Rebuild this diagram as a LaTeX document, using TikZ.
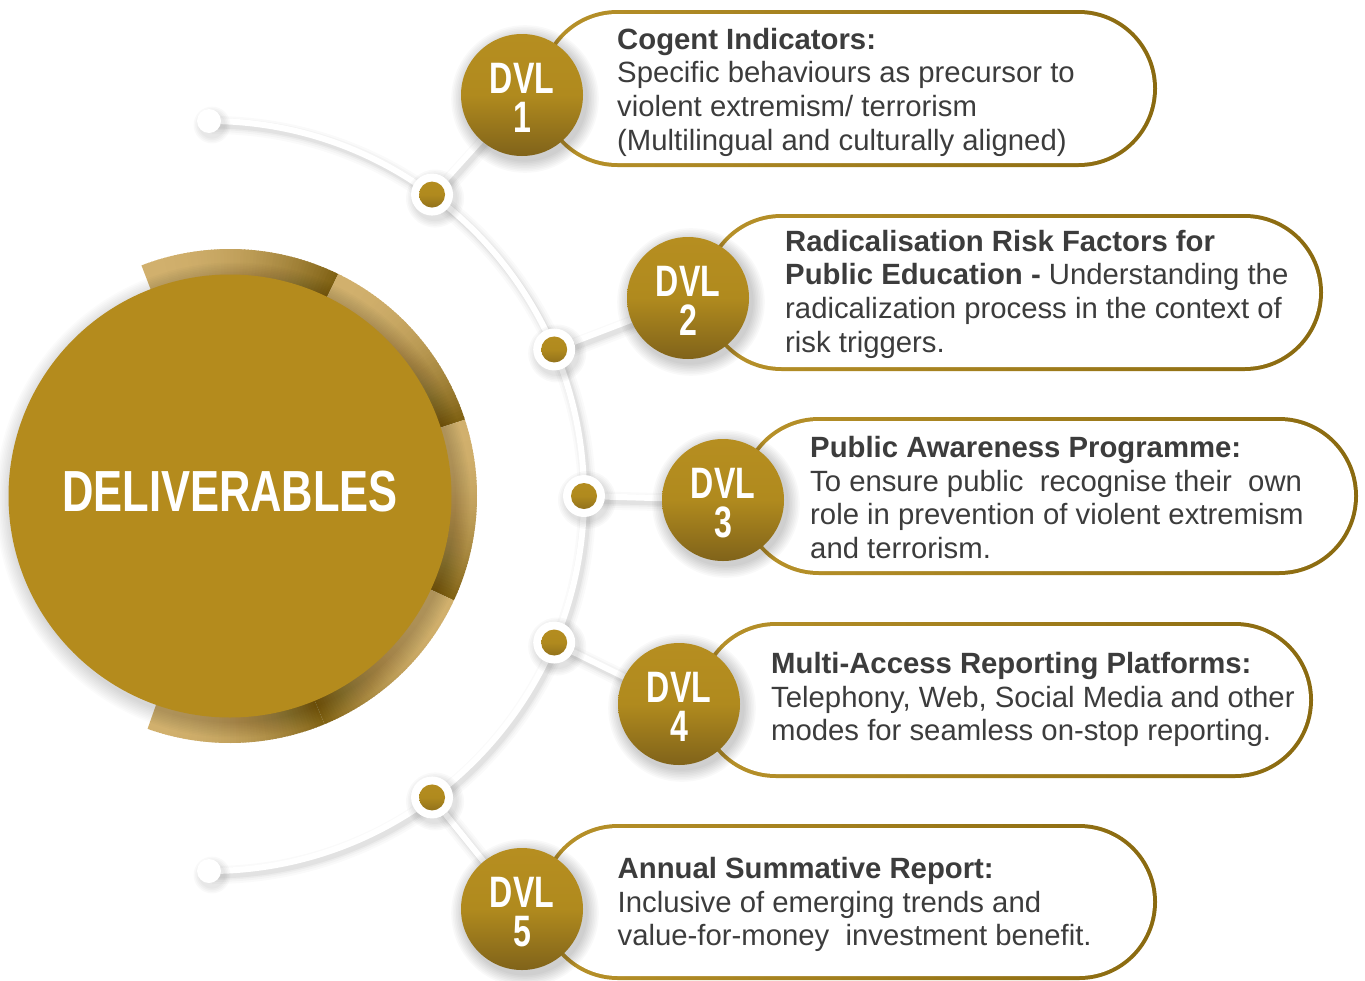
\documentclass[tikz,border=0pt]{standalone}
\usepackage{fontspec}
\setmainfont{Liberation Sans}
\newfontfamily\condfont{Liberation Sans}[FakeStretch=0.73]
\newfontfamily\titlefont{Liberation Sans}[FakeStretch=0.75]
\usetikzlibrary{calc}

\definecolor{gold}{HTML}{B48B1D}
\definecolor{ringlight}{HTML}{D1B06D}
\definecolor{ringdark}{HTML}{7E6012}
\definecolor{dvltop}{HTML}{B68E20}
\definecolor{dvlmid}{HTML}{B08A1E}
\definecolor{dvlbot}{HTML}{80631A}
\definecolor{pillL}{HTML}{B8922A}
\definecolor{pillR}{HTML}{8A6A10}
\definecolor{bodytext}{HTML}{3C3C3C}

\pgfdeclarelayer{bg}
\pgfsetlayers{bg,main}

% one bevelled piece of the outer ring: light-end angle, dark-end angle
\newcommand\ringseg[2]{%
  \pgfmathsetmacro\segspan{#2-(#1)}%
  \foreach \k in {0,...,59}{%
    \pgfmathsetmacro\segang{#1+\segspan*\k/60}%
    \pgfmathsetmacro\segend{#1+\segspan*min(\k+1.4,60)/60}%
    \pgfmathtruncatemacro\segpct{100*((\k+0.5)/60)^2.2}%
    \fill[ringdark!\segpct!ringlight] (mc) -- ($(mc)+(\segang:247pt)$)
      arc[start angle=\segang, end angle=\segend, radius=247pt] -- cycle;
  }}

% soft drop shadow under a disc: centre, radius (pt), number of rings, opacity
\newcommand\softshadow[4][0.022]{%
  \foreach \i in {1,...,#4}{%
    \pgfmathsetmacro\shr{#3+\i*1.6}%
    \fill[black,opacity=#1] ($(#2)+(3,4)$) circle[radius=\shr pt];
  }}

% pill outline with a left-to-right gold gradient: left, top, right, bottom
\newcommand\pill[4]{%
  \pgfmathsetmacro\pro{(#4-(#2))/2+1.98}%
  \pgfmathsetmacro\pri{(#4-(#2))/2-2.02}%
  \shade[left color=pillL, right color=pillR, rounded corners=\pro pt]
    (#1-2,#2-2) rectangle (#3+2,#4+2);
  \fill[white, rounded corners=\pri pt] (#1+2,#2+2) rectangle (#3-2,#4-2);}

% two-line badge label, set a little low in its disc
\newcommand\badge[1]{\rule{0pt}{36pt}DVL\\#1}

\begin{document}
\begin{tikzpicture}[x=1pt,y=-1pt,
  maincircle/.style={circle, fill=gold, minimum size=443pt, inner sep=0pt},
  bigtitle/.style={text=white, inner sep=0pt,
    font=\titlefont\bfseries\fontsize{58}{58}\selectfont},
  dvl/.style={circle, minimum size=122pt, inner sep=0pt,
    top color=dvltop, bottom color=dvlbot, middle color=dvlmid,
    text=white, align=center,
    font=\condfont\bfseries\fontsize{44}{39}\selectfont},
  dotnode/.style={circle, fill=white, minimum size=42pt, inner sep=0pt,
    path picture={\shade[top color=dvltop, bottom color=dvlbot, middle color=dvlmid]
      (path picture bounding box.center) circle[radius=13pt];}},
  enddot/.style={circle, fill=white, minimum size=24pt, inner sep=0pt},
  desc/.style={anchor=base west, inner sep=0pt, text=bodytext,
    font=\fontsize{29.3}{33.7}\selectfont},
  spine/.style={white, line width=6pt},
  spineshade/.style={black, opacity=#1}]

\useasboundingbox (0,0) rectangle (1365,980);
\begin{pgfonlayer}{bg}
  \fill[white] (0,0) rectangle (1365,980);
\end{pgfonlayer}

% ---------- central disc with its segmented ring ----------
\coordinate (mc) at (230,496);
\ringseg{111}{64}
\ringseg{64}{18}
\ringseg{18}{-25}
\ringseg{-25}{-67.5}
\ringseg{-109.5}{-67.5}
\softshadow[0.017]{mc}{221.5}{10}
\node[maincircle] (hub) at (mc) {};
\node[bigtitle] (hubtext) at (230,491.2) {DELIVERABLES};

% ---------- positions ----------
\coordinate (ac) at (209,496);
\coordinate (p1) at ($(ac)+(53.5:375pt)$);
\coordinate (p2) at ($(ac)+(23:375pt)$);
\coordinate (p3) at ($(ac)+(0:375pt)$);
\coordinate (p4) at ($(ac)+(-23:375pt)$);
\coordinate (p5) at ($(ac)+(-53.5:375pt)$);
\coordinate (c1) at (522,95);
\coordinate (c2) at (688,298);
\coordinate (c3) at (723,500);
\coordinate (c4) at (679,704);
\coordinate (c5) at (522,909);

% ---------- description pills ----------
\pill{541}{12}{1155}{165}
\pill{705}{216}{1321}{369}
\pill{742}{419}{1356}{573}
\pill{700}{624}{1311}{776}
\pill{542}{826}{1155}{978}

\node[desc] (t1) at (617,49) {\begin{tabular}[t]{@{}l@{}}
  \textbf{Cogent Indicators:}\\
  Specific behaviours as precursor to\\
  violent extremism/ terrorism\\
  (Multilingual and culturally aligned)\end{tabular}};
\node[desc] (t2) at (785,251) {\begin{tabular}[t]{@{}l@{}}
  \textbf{Radicalisation Risk Factors for}\\
  \textbf{Public Education -} Understanding the\\
  radicalization process in the context of\\
  risk triggers.\end{tabular}};
\node[desc] (t3) at (810,457.5) {\begin{tabular}[t]{@{}l@{}}
  \textbf{Public Awareness Programme:}\\
  To ensure public~ recognise their~ own\\
  role in prevention of violent extremism\\
  and terrorism.\end{tabular}};
\node[desc] (t4) at (771,673.5) {\begin{tabular}[t]{@{}l@{}}
  \textbf{Multi-Access Reporting Platforms:}\\
  Telephony, Web, Social Media and other\\
  modes for seamless on-stop reporting.\end{tabular}};
\node[desc] (t5) at (617.5,878.5) {\begin{tabular}[t]{@{}l@{}}
  \textbf{Annual Summative Report:}\\
  Inclusive of emerging trends and\\
  value-for-money~ investment benefit.\end{tabular}};

% ---------- DVL badges ----------
\softshadow{c1}{61}{8}
\softshadow{c2}{61}{8}
\softshadow{c3}{61}{8}
\softshadow{c4}{61}{8}
\softshadow{c5}{61}{8}
\node[dvl] (d1) at (c1) {\badge{1}};
\node[dvl] (d2) at (c2) {\badge{2}};
\node[dvl] (d3) at (c3) {\badge{3}};
\node[dvl] (d4) at (c4) {\badge{4}};
\node[dvl] (d5) at (c5) {\badge{5}};

% ---------- beads on the spine ----------
\softshadow{p1}{21}{5}
\softshadow{p2}{21}{5}
\softshadow{p3}{21}{5}
\softshadow{p4}{21}{5}
\softshadow{p5}{21}{5}
\node[dotnode] (k1) at (p1) {};
\node[dotnode] (k2) at (p2) {};
\node[dotnode] (k3) at (p3) {};
\node[dotnode] (k4) at (p4) {};
\node[dotnode] (k5) at (p5) {};
\softshadow{$(ac)+(90:375pt)$}{12}{4}
\softshadow{$(ac)+(-90:375pt)$}{12}{4}
\node[enddot] (e1) at ($(ac)+(90:375pt)$) {};
\node[enddot] (e2) at ($(ac)+(-90:375pt)$) {};

% ---------- spine arc and spokes, under everything ----------
\begin{pgfonlayer}{bg}
  \foreach \w/\o in {18/0.02,14/0.025,10/0.03,7/0.04}{
    \draw[spineshade=\o, line width=\w pt] ($(e1)+(3,4)$)
      arc[start angle=90, end angle=-90, radius=375pt];
    \foreach \n in {1,...,5}
      \draw[spineshade=\o, line width=\w pt] ($(k\n)+(3,4)$) -- ($(d\n)+(3,4)$);
  }
  \draw[spine] (e1.center) arc[start angle=90, end angle=-90, radius=375pt];
  \draw[spine] (k1) -- (d1);
  \draw[spine] (k2) -- (d2);
  \draw[spine] (k3) -- (d3);
  \draw[spine] (k4) -- (d4);
  \draw[spine] (k5) -- (d5);
\end{pgfonlayer}
\end{tikzpicture}
\end{document}
